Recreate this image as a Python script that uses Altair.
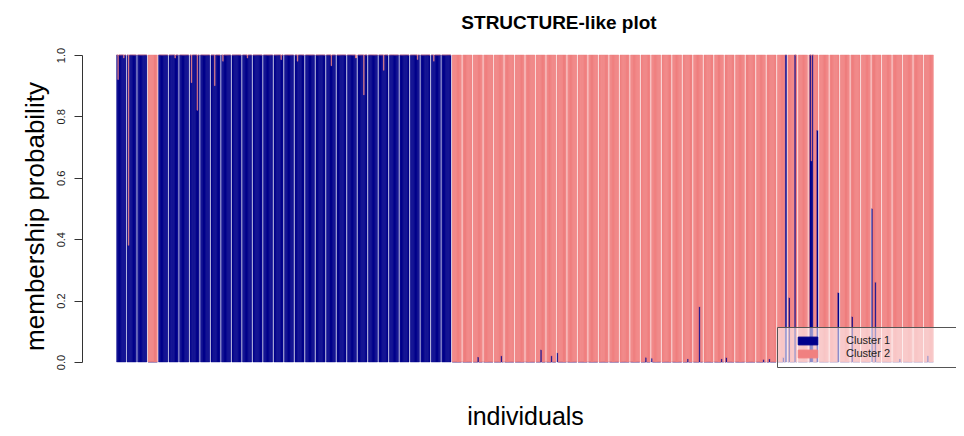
import altair as alt
import pandas as pd

# membership probability of Cluster 1 for each individual,
# individuals shown in 78 blocks of 8 (Cluster 2 = 1 - Cluster 1)
cluster1_blocks = [
    [1, 0.92, 1, 1, 1, 1, 0.99, 1],
    [1, 0.38, 1, 1, 1, 1, 1, 1],
    [1, 1, 1, 1, 1, 1, 1, 1],
    [0, 0, 0, 0, 0, 0, 0, 0],
    [1, 1, 1, 1, 1, 1, 1, 1],
    [1, 1, 1, 1, 1, 0.99, 1, 1],
    [1, 1, 1, 1, 1, 1, 1, 1],
    [1, 0.91, 1, 1, 1, 1, 0.82, 1],
    [1, 1, 1, 1, 1, 1, 1, 1],
    [1, 1, 1, 0.90, 1, 1, 1, 1],
    [1, 0.98, 1, 1, 1, 1, 1, 1],
    [1, 1, 1, 1, 1, 1, 1, 1],
    [1, 1, 1, 1, 0.99, 1, 1, 1],
    [1, 1, 1, 1, 1, 1, 1, 1],
    [1, 1, 1, 1, 1, 1, 1, 1],
    [1, 1, 1, 1, 1, 1, 0.985, 1],
    [1, 1, 1, 1, 1, 1, 1, 1],
    [1, 1, 0.98, 1, 1, 1, 1, 1],
    [1, 1, 1, 1, 1, 1, 1, 1],
    [1, 1, 1, 1, 1, 1, 1, 1],
    [1, 1, 1, 1, 0.965, 1, 1, 1],
    [1, 1, 1, 1, 1, 1, 1, 1],
    [1, 1, 1, 1, 1, 1, 1, 0.99],
    [1, 1, 1, 1, 1, 0.87, 1, 1],
    [1, 1, 1, 1, 1, 1, 1, 1],
    [1, 1, 1, 1, 0.95, 1, 1, 1],
    [1, 1, 1, 1, 1, 1, 1, 1],
    [1, 1, 1, 1, 1, 1, 1, 1],
    [1, 1, 1, 1, 1, 1, 0.985, 1],
    [1, 1, 1, 1, 1, 1, 1, 1],
    [1, 1, 0.98, 1, 1, 1, 1, 1],
    [1, 1, 1, 1, 1, 1, 1, 1],
    [0, 0, 0, 0, 0, 0, 0, 0],
    [0, 0, 0, 0, 0, 0, 0, 0],
    [0, 0, 0, 0, 0.016, 0, 0, 0],
    [0, 0, 0, 0, 0, 0, 0, 0],
    [0, 0, 0, 0, 0, 0, 0.02, 0],
    [0, 0, 0, 0, 0, 0, 0, 0],
    [0, 0, 0, 0, 0, 0, 0, 0],
    [0, 0, 0, 0, 0, 0, 0, 0],
    [0, 0, 0, 0, 0.04, 0, 0, 0],
    [0, 0, 0, 0, 0.02, 0, 0, 0],
    [0.03, 0, 0, 0, 0, 0, 0, 0],
    [0, 0, 0, 0, 0, 0, 0, 0],
    [0, 0, 0, 0, 0, 0, 0, 0],
    [0, 0, 0, 0, 0, 0, 0, 0],
    [0, 0, 0, 0, 0, 0, 0, 0],
    [0, 0, 0, 0, 0, 0, 0, 0],
    [0, 0, 0, 0, 0, 0, 0, 0],
    [0, 0, 0, 0, 0, 0, 0, 0],
    [0, 0, 0, 0, 0.015, 0, 0, 0],
    [0.012, 0, 0, 0, 0, 0, 0, 0],
    [0, 0, 0, 0, 0, 0, 0, 0],
    [0, 0, 0, 0, 0, 0, 0, 0],
    [0, 0, 0, 0, 0.01, 0, 0, 0],
    [0, 0, 0, 0, 0, 0.18, 0, 0],
    [0, 0, 0, 0, 0, 0, 0, 0],
    [0, 0, 0, 0, 0, 0, 0.01, 0],
    [0, 0.015, 0, 0, 0, 0, 0, 0],
    [0, 0, 0, 0, 0, 0, 0, 0],
    [0, 0, 0, 0, 0, 0, 0, 0],
    [0, 0, 0, 0, 0, 0, 0.008, 0],
    [0, 0, 0.01, 0, 0, 0, 0, 0],
    [0, 0, 0, 0, 0, 0.015, 0, 1.0],
    [0, 0.21, 0, 0, 0, 0, 1.0, 0],
    [0, 0, 0, 0, 0, 0, 0, 0],
    [0, 1.0, 0.655, 1.0, 0, 0, 0, 0.755],
    [0, 0, 0, 0, 0, 0, 0, 0],
    [0, 0, 0, 0, 0, 0, 0, 0.226],
    [0, 0, 0, 0, 0, 0, 0, 0],
    [0, 0.148, 0, 0, 0, 0, 0, 0],
    [0, 0, 0, 0, 0, 0, 0, 0],
    [0.50, 0, 0, 0.26, 0, 0, 0, 0],
    [0, 0, 0, 0, 0, 0, 0, 0],
    [0, 0, 0, 0, 0, 0, 0.01, 0],
    [0, 0, 0, 0, 0, 0, 0, 0],
    [0, 0, 0, 0, 0, 0, 0, 0],
    [0, 0, 0, 0.02, 0, 0, 0, 0],
]
clusters = ["Cluster 1", "Cluster 2"]
cluster_colors = ["#00008B", "#F08080"]
y_ticks = [0.0, 0.2, 0.4, 0.6, 0.8, 1.0]

rows = []
for b, block in enumerate(cluster1_blocks):
    for s, v in enumerate(block):
        rows.append({"block": b, "ind": s, "cluster": clusters[0], "p": v, "k": 0})
        rows.append({"block": b, "ind": s, "cluster": clusters[1], "p": 1 - v, "k": 1})
df = pd.DataFrame(rows)

color_scale = alt.Scale(domain=clusters, range=cluster_colors)

chart = (
    alt.Chart(df)
    .mark_bar(strokeWidth=0.45)
    .encode(
        x=alt.X(
            "block:O",
            scale=alt.Scale(paddingInner=0.12, paddingOuter=0.06),
            axis=alt.Axis(
                title="individuals", labels=False, ticks=False, domain=False,
                titleFontSize=25, titleFontWeight="normal", titleColor="#000000",
                titleBaseline="alphabetic", titlePadding=62,
            ),
        ),
        xOffset=alt.XOffset("ind:O", scale=alt.Scale(paddingInner=0, paddingOuter=0)),
        y=alt.Y(
            "p:Q",
            stack="zero",
            scale=alt.Scale(domain=[0, 1], nice=False),
            axis=alt.Axis(
                title="membership probability", values=y_ticks, format=".1f",
                offset=34, tickSize=8, labelAngle=270, labelAlign="center",
                labelBaseline="alphabetic", labelPadding=10, labelFontSize=11,
                labelColor="#222222", tickColor="#333333", domainColor="#333333",
                grid=False, titleFontSize=26, titleFontWeight="normal",
                titleColor="#000000", titleBaseline="alphabetic", titleX=-39,
                titleY=161, titleAlign="center",
            ),
        ),
        color=alt.Color(
            "cluster:N", scale=color_scale,
            legend=alt.Legend(
                title="\u00a0", titleOrient="right", titlePadding=90,
                titleFontSize=11,
                orient="none", legendX=661, legendY=272, padding=7,
                fillColor="rgba(255,255,255,0.55)", strokeColor="#555555",
                symbolType="M-1.5,-0.6H1.5V0.6H-1.5Z", symbolSize=169,
                symbolStrokeColor="#000000", symbolStrokeWidth=1,
                symbolOffset=17, labelOffset=31, labelFontSize=11,
                labelColor="#222222", rowPadding=0,
            ),
        ),
        stroke=alt.Stroke("cluster:N", scale=color_scale, legend=None),
        order=alt.Order("k:Q"),
    )
    .properties(
        width=818,
        height=307,
        autosize="none",
        padding={"left": 108, "top": 47, "right": 22, "bottom": 66},
        title=alt.TitleParams(
            "STRUCTURE-like plot", fontSize=19, fontWeight="bold",
            anchor="middle", offset=14, dx=34, color="#000000",
        ),
    )
    .configure(font="Liberation Sans")
    .configure_view(stroke=None)
)

chart.save("out.html", embed_options={"renderer": "svg", "actions": False})
